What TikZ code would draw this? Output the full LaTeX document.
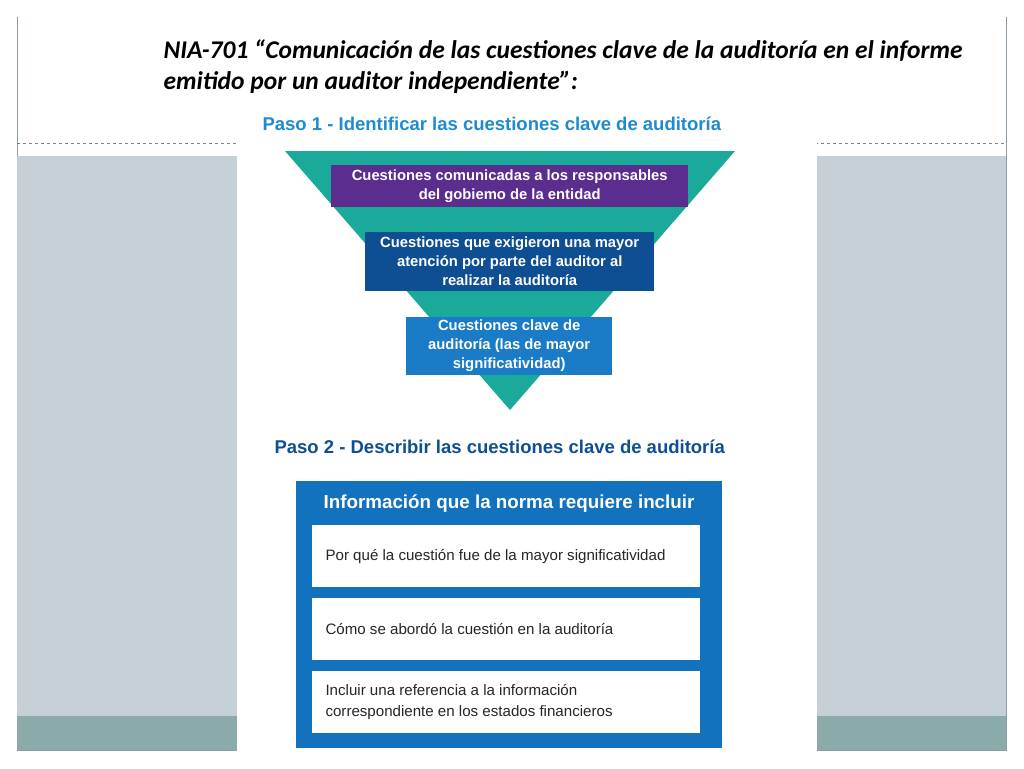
\documentclass[tikz,border=0pt]{standalone}
\usepackage{fontspec}
\setmainfont{Liberation Sans}
\newfontfamily\calib{Carlito}
\definecolor{panel}{HTML}{C5D0D6}
\definecolor{dteal}{HTML}{8BABAA}
\definecolor{tri}{HTML}{1BAA9A}
\definecolor{purp}{HTML}{5B2D8E}
\definecolor{dblue}{HTML}{0E4F94}
\definecolor{mblue}{HTML}{1A7CC6}
\definecolor{bblue}{HTML}{1372BE}
\definecolor{head}{HTML}{1D8BCF}
\definecolor{frame}{HTML}{8E9EA6}
\begin{document}
\begin{tikzpicture}[x=1pt,y=-1pt,
  ibox/.style={text=white,font=\bfseries\fontsize{14.8}{19}\selectfont,align=center,inner sep=0pt},
  wbox/.style={fill=white,anchor=north west,minimum width=388pt,minimum height=62pt,inner sep=0pt},
  wtxt/.style={anchor=west,font=\fontsize{15.1}{21}\selectfont,align=left,text=black!85}]
\useasboundingbox (0,0) rectangle (1024,768);
\fill[white] (0,0) rectangle (1024,768);
\draw[frame] (17,17) -- (17,750) -- (1006,750) -- (1006,17);
\draw[gray,dashed] (17,143) -- (1006,143);
\fill[panel] (17,156) rectangle (237,716);
\fill[dteal] (17,716) rectangle (237,750);
\fill[panel] (817,156) rectangle (1006,716);
\fill[dteal] (817,716) rectangle (1006,750);
\fill[white] (237,110) rectangle (817,768);
\node[anchor=north west,align=left,font=\calib\bfseries\itshape\fontsize{25.5}{31}\selectfont] (title) at (160,36) {NIA-701 “Comunicación de las cuestiones clave de la auditoría en el informe\\emitido por un auditor independiente”:};
\node[text=head,font=\bfseries\fontsize{18.5}{20}\selectfont,anchor=west] (p1) at (259,124) {Paso 1 - Identificar las cuestiones clave de auditoría};
\fill[tri] (285,151) -- (735,151) -- (510,410) -- cycle;
\node[fill=purp,minimum width=357pt,minimum height=42pt,anchor=north west,ibox] (b1) at (331,165) {};
\node[ibox] at (b1) {Cuestiones comunicadas a los responsables\\del gobiemo de la entidad};
\node[fill=dblue,minimum width=289pt,minimum height=59pt,anchor=north west,ibox] (b2) at (365,232) {};
\node[ibox] at (b2) {Cuestiones que exigieron una mayor\\atención por parte del auditor al\\realizar la auditoría};
\node[fill=mblue,minimum width=206pt,minimum height=58pt,anchor=north west,ibox] (b3) at (406,317) {};
\node[ibox] at (b3) {Cuestiones clave de\\auditoría (las de mayor\\significatividad)};
\node[text=dblue,font=\bfseries\fontsize{18.5}{20}\selectfont,anchor=west] (p2) at (271,447) {Paso 2 - Describir las cuestiones clave de auditoría};
\fill[bblue] (296,481) rectangle (722,748);
\node[text=white,font=\bfseries\fontsize{18.8}{21}\selectfont] (h) at (509,504) {Información que la norma requiere incluir};
\node[wbox] (w1) at (312,525) {};
\node[wtxt] at ([xshift=10pt]w1.west) {Por qué la cuestión fue de la mayor significatividad};
\node[wbox] (w2) at (312,598) {};
\node[wtxt] at ([xshift=10pt]w2.west) {Cómo se abordó la cuestión en la auditoría};
\node[wbox] (w3) at (312,671) {};
\node[wtxt] at ([xshift=10pt]w3.west) {Incluir una referencia a la información\\correspondiente en los estados financieros};
\end{tikzpicture}
\end{document}
